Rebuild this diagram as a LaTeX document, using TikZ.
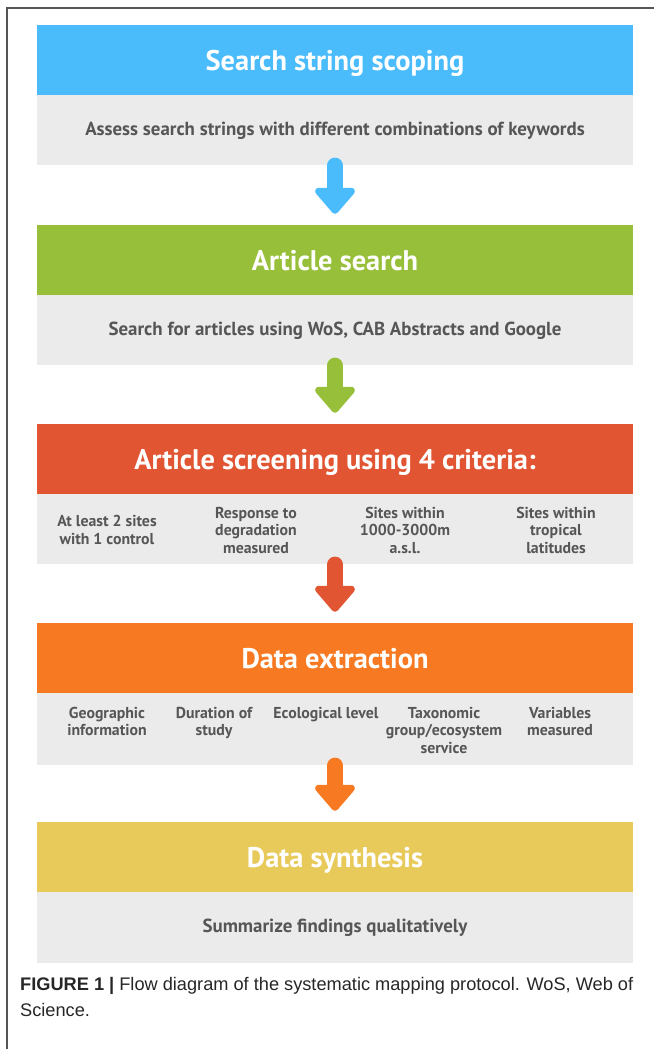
\documentclass[tikz,border=0pt]{standalone}
\usepackage{fontspec}
\setmainfont{PT Sans}
\newfontfamily\capfont{Liberation Sans}
\usetikzlibrary{arrows.meta}
\usetikzlibrary{positioning}

\definecolor{scopeblue}{HTML}{4BBCFB}
\definecolor{searchgreen}{HTML}{98BF3A}
\definecolor{screenred}{HTML}{E15533}
\definecolor{extractorange}{HTML}{F77A22}
\definecolor{synthyellow}{HTML}{E8CA5B}
\definecolor{bodygray}{HTML}{EBEBEB}
\definecolor{bodytext}{HTML}{565656}
\definecolor{framegray}{HTML}{555555}

\tikzset{
  stagehead/.style={minimum width=596pt,minimum height=70pt,inner sep=0pt,
    text depth=0pt,text=white,font=\bfseries\fontsize{28.4}{32}\selectfont},
  stagebody/.style={fill=bodygray,minimum width=596pt,minimum height=70pt,inner sep=0pt,
    text=bodytext,font=\bfseries\fontsize{18.9}{22}\selectfont},
  crit/.style={align=center,inner sep=0pt,text=bodytext,
    font=\bfseries\fontsize{15.8}{17.5}\selectfont},
  flowarrow/.style={line width=16pt,line cap=round,
    -{Triangle[width=46pt,length=28pt,round]},shorten >=11pt},
}

\begin{document}
\begin{tikzpicture}[x=1pt,y=-1pt]
\useasboundingbox (0,0) rectangle (654,1049);
\draw[framegray,line width=1.2pt] (7,1049) -- (7,8) -- (654,8);

% stages
\node[stagehead,fill=scopeblue] (scopehead) at (335,60) {Search string scoping};
\node[stagebody,below=0pt of scopehead] (scopebody)
  {Assess search strings with different combinations of keywords};

\node[stagehead,fill=searchgreen] (searchhead) at (335,260) {Article search};
\node[stagebody,below=0pt of searchhead] (searchbody)
  {Search for articles using WoS, CAB Abstracts and Google};

\node[stagehead,fill=screenred] (screenhead) at (335,459) {Article screening using 4 criteria:};
\node[stagebody,below=0pt of screenhead] (screenbody) {};

\node[stagehead,fill=extractorange] (extracthead) at (335,658) {Data extraction};
\node[stagebody,below=0pt of extracthead,minimum height=72pt] (extractbody) {};

\node[stagehead,fill=synthyellow] (synthhead) at (335,857) {Data synthesis};
\node[stagebody,below=0pt of synthhead,minimum height=71pt] (synthbody)
  {Summarize findings qualitatively};

% criteria
\node[crit] (critsites) at (107,530) {At least 2 sites\\with 1 control};
\node[crit] (critresp) at (256,530) {Response to\\degradation\\measured};
\node[crit] (critalt) at (405,530) {Sites within\\1000-3000m\\a.s.l.};
\node[crit] (crittrop) at (556,530) {Sites within\\tropical\\latitudes};

% extracted data
\node[crit,anchor=north] (datageo) at (107,707) {Geographic\\information};
\node[crit,anchor=north] (datadur) at (214,707) {Duration of\\study};
\node[crit,anchor=north] (dataeco) at (326,707) {Ecological level};
\node[crit,anchor=north] (datataxo) at (444,707) {Taxonomic\\group/ecosystem\\service};
\node[crit,anchor=north] (datavar) at (560,707) {Variables\\measured};

% arrows
\draw[flowarrow,scopeblue] (scopebody.south) -- (searchhead.north);
\draw[flowarrow,searchgreen] (searchbody.south) -- (screenhead.north);
\draw[flowarrow,screenred] (screenbody.south) -- (extracthead.north);
\draw[flowarrow,extractorange] (extractbody.south) -- (synthhead.north);

% caption
\node[anchor=north west,align=left,inner sep=0pt,text=black!85,
  font=\capfont\fontsize{18.2}{26}\selectfont] (caption) at (20,977)
  {\textbf{FIGURE 1 |} Flow diagram of the systematic mapping protocol. WoS, Web of\\Science.};
\end{tikzpicture}
\end{document}
